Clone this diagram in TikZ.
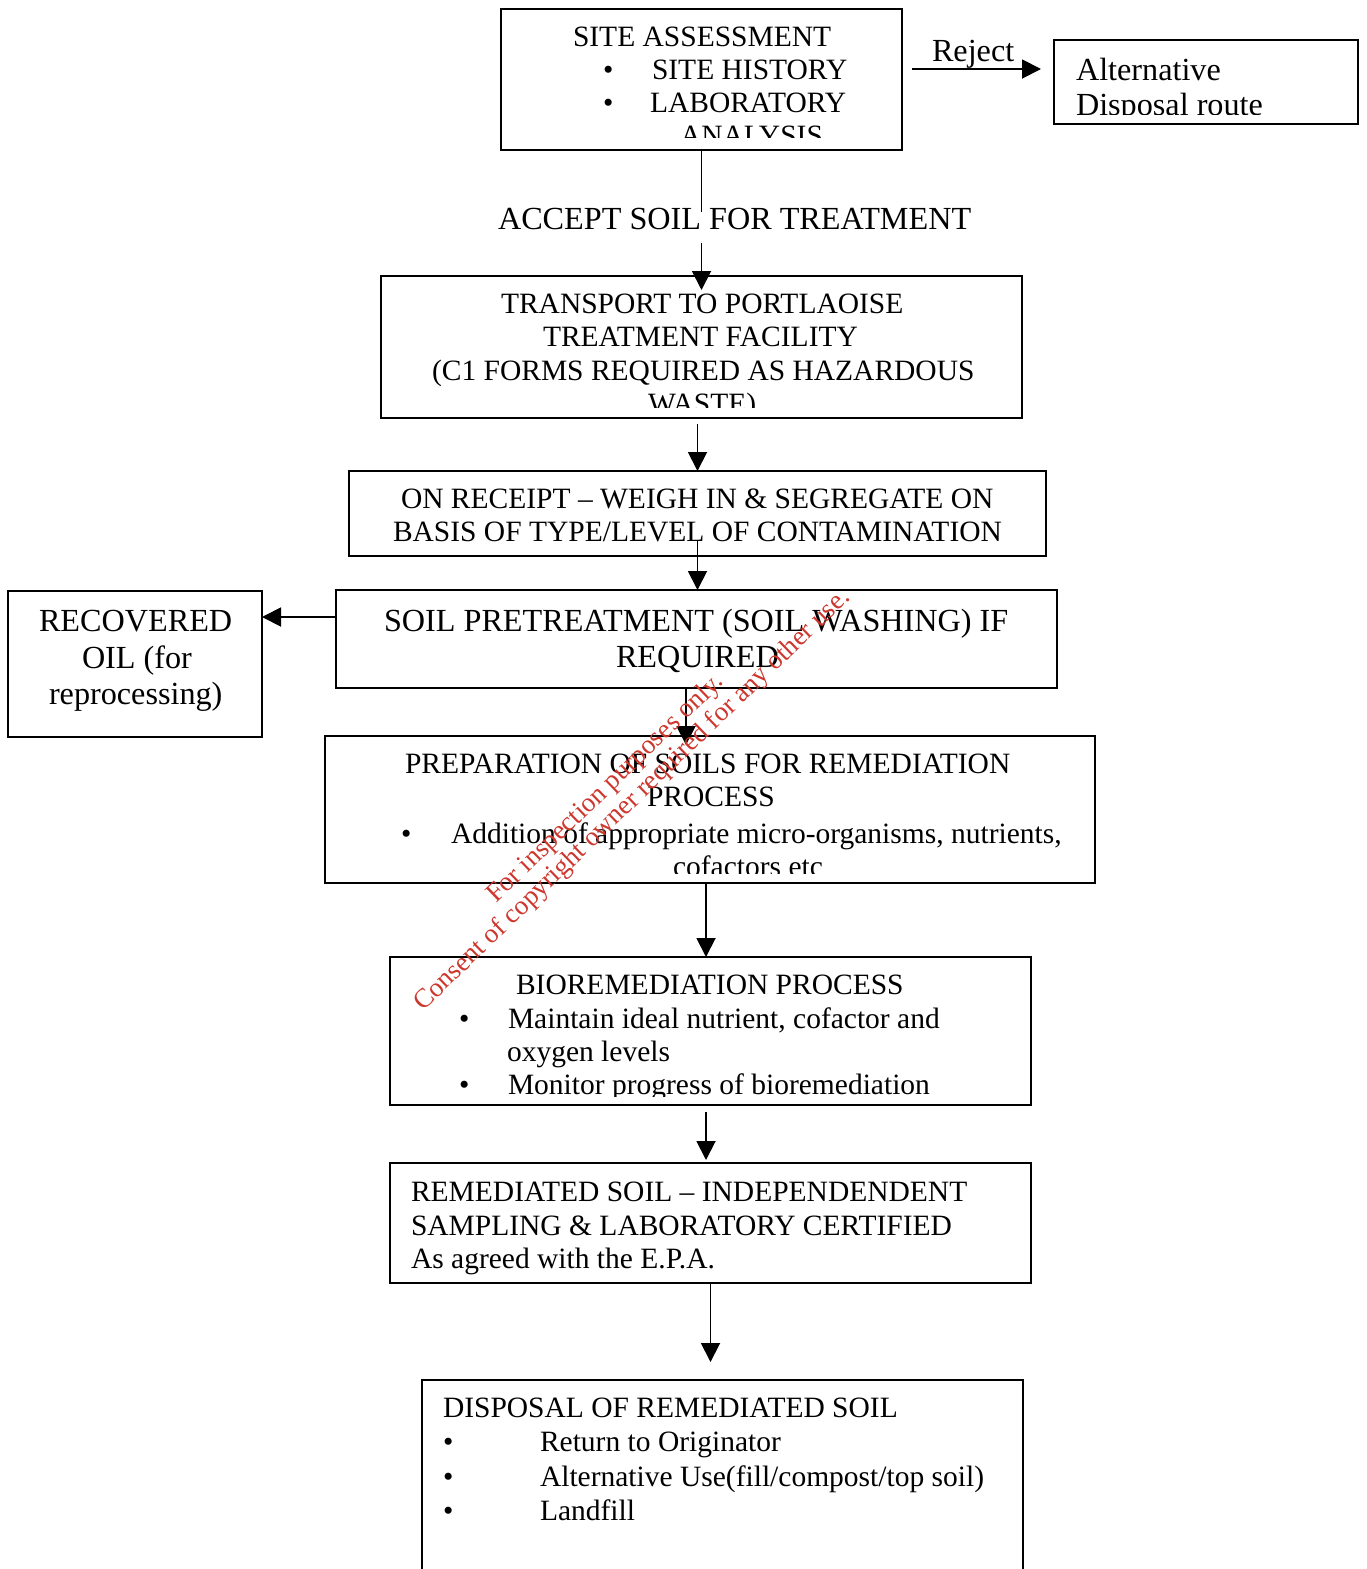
\documentclass[tikz,border=0pt]{standalone}
\usepackage{fontspec}
\setmainfont{Liberation Serif}
\usetikzlibrary{arrows.meta,calc}
\definecolor{wmred}{RGB}{205,55,45}
\begin{document}
\begin{tikzpicture}[x=1pt,y=-1pt,
  box/.style={draw, line width=2.2pt, inner sep=0pt, outer sep=0pt, anchor=north west},
  txt/.style={inner sep=0pt, outer sep=0pt, anchor=base west, font=\fontsize{29.5}{33}\selectfont},
  bigtxt/.style={txt, font=\fontsize{32.2}{36}\selectfont},
  wm/.style={inner sep=0pt, anchor=base west, rotate=44, text=wmred, font=\fontsize{27}{30}\selectfont},
  conn/.style={line width=1.9pt},
  arr/.style={conn, -{Triangle[length=19pt,width=19pt]}}
]
\useasboundingbox (0,0) rectangle (1367,1569);
\clip (0,0) rectangle (1367,1569);

% boxes
\node[box, minimum width=401pt, minimum height=141pt] (sa) at (501,9) {};
\node[box, minimum width=304pt, minimum height=84pt] (alt) at (1054,40) {};
\node[box, minimum width=641pt, minimum height=142pt] (tr) at (381,276) {};
\node[box, minimum width=697pt, minimum height=85pt] (rc) at (349,471) {};
\node[box, minimum width=721pt, minimum height=98pt] (pt) at (336,590) {};
\node[box, minimum width=254pt, minimum height=146pt] (ro) at (8,591) {};
\node[box, minimum width=770pt, minimum height=147pt] (pr) at (325,736) {};
\node[box, minimum width=641pt, minimum height=148pt] (bio) at (390,957) {};
\node[box, minimum width=641pt, minimum height=120pt] (rem) at (390,1163) {};
\node[box, minimum width=601pt, minimum height=220pt] (dis) at (422,1380) {};

% box 1 text
\node[txt] (sa1) at (573,46) {SITE ASSESSMENT};
\node[txt] (sab1) at (603,79) {\textbullet};
\node[txt] (sa2) at (652,79) {SITE HISTORY};
\node[txt] (sab2) at (603,112) {\textbullet};
\node[txt] (sa3) at (650,112) {LABORATORY};
\begin{scope}
  \clip (501,9) rectangle (902,137);
  \node[txt] (sa4) at (680,145) {ANALYSIS};
\end{scope}

% reject
\node[bigtxt] (rej) at (932,61) {Reject};
\draw[arr] ($(sa.north east)+(10,60)$) -- ($(alt.north west)+(-13,29)$);

% alternative
\node[bigtxt] (alt1) at (1076,80) {Alternative};
\begin{scope}
  \clip (1054,40) rectangle (1358,114);
  \node[bigtxt] (alt2) at (1076,115) {Disposal route};
\end{scope}

% accept
\node[bigtxt] (acc) at (498,229) {ACCEPT SOIL FOR TREATMENT};
\coordinate (acctop) at ($(sa.south)+(0,62)$);
\coordinate (accbot) at ($(sa.south)+(0,93)$);
\draw[conn] (sa.south) -- (acctop);
\draw[arr] (accbot) -- ($(tr.north)+(0,14)$);

% transport
\node[txt] (tr1) at (501,313) {TRANSPORT TO PORTLAOISE};
\node[txt] (tr2) at (543,346) {TREATMENT FACILITY};
\node[txt] (tr3) at (432,380) {(C1 FORMS REQUIRED AS HAZARDOUS};
\begin{scope}
  \clip (381,276) rectangle (1022,407);
  \node[txt] (tr4) at (648,413) {WASTE)};
\end{scope}
\draw[arr] ($(rc.north)+(0,-47)$) -- (rc.north);

% receipt
\node[txt] (rc1) at (401,508) {ON RECEIPT – WEIGH IN \& SEGREGATE ON};
\node[txt] (rc2) at (393,541) {BASIS OF TYPE/LEVEL OF CONTAMINATION};
\draw[arr] ($(rc.south)+(0,-16)$) -- (rc.south |- pt.north);

% pretreatment
\node[bigtxt] (pt1) at (384,631) {SOIL PRETREATMENT (SOIL WASHING) IF};
\node[bigtxt] (pt2) at (616,667) {REQUIRED};
\draw[arr] ($(pt.north west)+(0,27)$) -- ($(ro.north east)+(0,26)$);

% recovered oil
\node[bigtxt] (ro1) at (39,631) {RECOVERED};
\node[bigtxt] (ro2) at (82,668) {OIL (for};
\node[bigtxt] (ro3) at (49,704) {reprocessing)};

\draw[arr] ($(pt.south)+(-10.5,0)$) -- ($(pr.north)+(-24,9)$);

% preparation
\node[txt] (pr1) at (405,773) {PREPARATION OF SOILS FOR REMEDIATION};
\node[txt] (pr2) at (647,806) {PROCESS};
\node[txt] (prb) at (401,843) {\textbullet};
\node[txt] (pr3) at (451,843) {Addition of appropriate micro-organisms, nutrients,};
\begin{scope}
  \clip (325,736) rectangle (1095,873);
  \node[txt] (pr4) at (673,876) {cofactors etc};
\end{scope}
\draw[arr] ($(pr.south)+(-4,0)$) -- ($(bio.north)+(-4.5,0)$);

% bioremediation
\node[txt] (bio1) at (516,994) {BIOREMEDIATION PROCESS};
\node[txt] (biob1) at (459,1028) {\textbullet};
\node[txt] (bio2) at (508,1028) {Maintain ideal nutrient, cofactor and};
\node[txt] (bio3) at (507,1061) {oxygen levels};
\node[txt] (biob2) at (459,1094) {\textbullet};
\begin{scope}
  \clip (390,957) rectangle (1031,1096);
  \node[txt] (bio4) at (508,1094) {Monitor progress of bioremediation};
\end{scope}
\draw[arr] ($(bio.south)+(-4.5,7)$) -- ($(rem.north)+(-4.5,-3)$);

% remediated
\node[txt] (rem1) at (411,1201) {REMEDIATED SOIL – INDEPENDENDENT};
\node[txt] (rem2) at (411,1235) {SAMPLING \& LABORATORY CERTIFIED};
\node[txt] (rem3) at (411,1268) {As agreed with the E.P.A.};
\draw[arr] (rem.south) -- ($(dis.north)+(-12,-18)$);

% disposal
\node[txt] (dis1) at (443,1417) {DISPOSAL OF REMEDIATED SOIL};
\node[txt] (disb1) at (443,1451) {\textbullet};
\node[txt] (dis2) at (540,1451) {Return to Originator};
\node[txt] (disb2) at (443,1486) {\textbullet};
\node[txt] (dis3) at (540,1486) {Alternative Use(fill/compost/top soil)};
\node[txt] (disb3) at (443,1520) {\textbullet};
\node[txt] (dis4) at (540,1520) {Landfill};

% watermark
\node[wm] (wm1) at (496,904) {For inspection purposes only.};
\node[wm] (wm2) at (423,1012) {Consent of copyright owner required for any other use.};
\end{tikzpicture}
\end{document}
